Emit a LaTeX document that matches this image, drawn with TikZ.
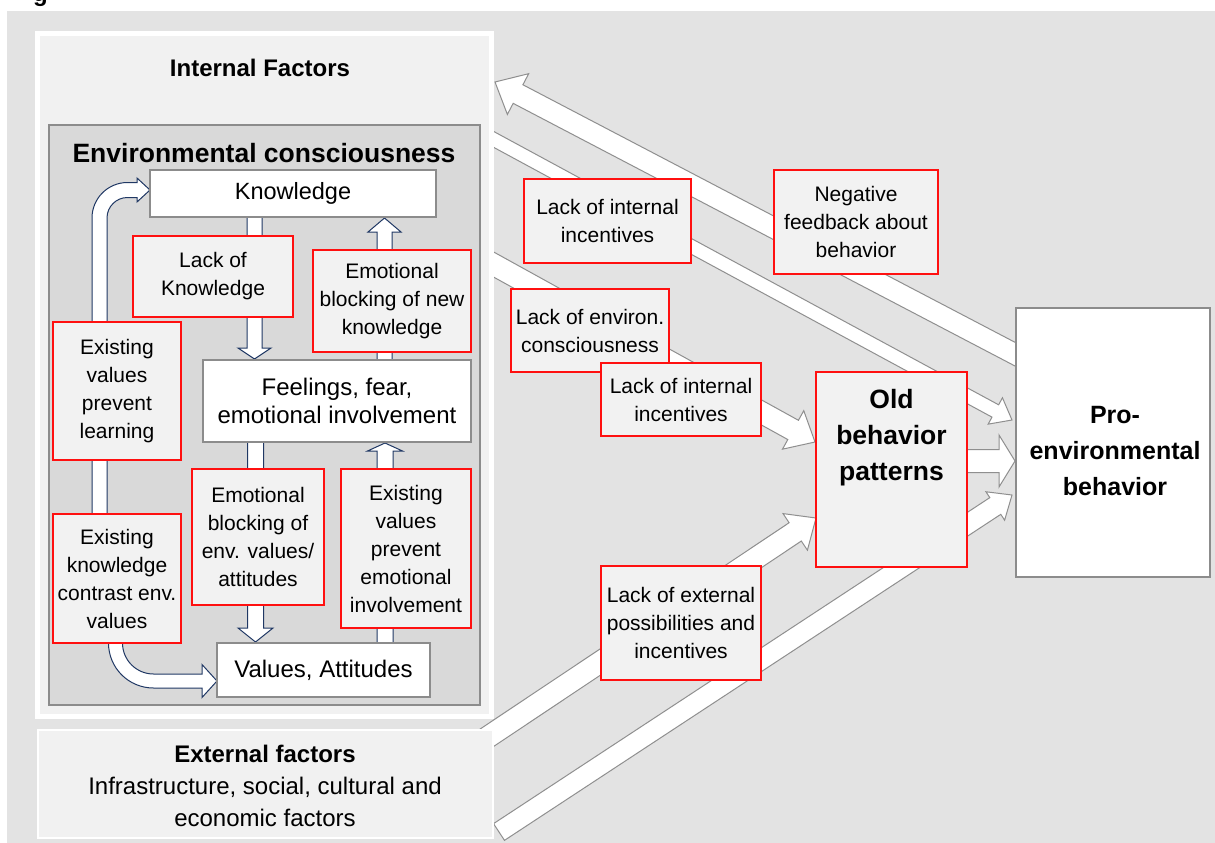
\documentclass[tikz,border=0pt]{standalone}
\usepackage{fontspec}
\setmainfont{Liberation Sans}
\usetikzlibrary{calc}

\definecolor{panel}{HTML}{E3E3E3}
\definecolor{boxfill}{HTML}{F1F1F1}
\definecolor{envfill}{HTML}{D9D9D9}
\definecolor{framegray}{HTML}{8C8C8C}
\definecolor{lblred}{HTML}{FF1010}
\definecolor{lblfill}{HTML}{F2F2F2}
\definecolor{arrowline}{HTML}{8F8F8F}
\definecolor{navy}{HTML}{203864}

\pgfdeclarelayer{backdrop}
\pgfdeclarelayer{bigarrows}
\pgfdeclarelayer{frames}
\pgfdeclarelayer{inner}
\pgfsetlayers{backdrop,bigarrows,frames,inner,main}

% block arrow: #1 style, #2 tail, #3 tip, #4 shaft half width,
% #5 head half width, #6 head length
\newcommand\blockarrow[6]{%
  \coordinate (ba-b) at ($(#3)!#6!(#2)$);
  \path[#1] ($(#2)!#4!90:(#3)$) -- ($(ba-b)!#4!90:(#3)$)
    -- ($(ba-b)!#5!90:(#3)$) -- (#3) -- ($(ba-b)!#5!-90:(#3)$)
    -- ($(ba-b)!#4!-90:(#3)$) -- ($(#2)!#4!-90:(#3)$) -- cycle;
}

\tikzset{
  lbl/.style={draw=lblred, fill=lblfill, line width=1.6pt, align=center,
    inner sep=0pt, font=\fontsize{21}{28}\selectfont},
  wbox/.style={draw=framegray, fill=white, line width=2pt, align=center,
    inner sep=0pt},
  bigarrow/.style={fill=white, draw=arrowline, line width=1pt, line join=miter},
  smallarrow/.style={fill=white, draw=navy, line width=1pt, line join=miter},
  heading/.style={font=\bfseries\fontsize{24}{28}\selectfont, inner sep=0pt},
}

\begin{document}
\begin{tikzpicture}[x=1pt,y=-1pt]
\useasboundingbox (0,0) rectangle (1215,843);

% ---------------- backdrop
\begin{pgfonlayer}{backdrop}
  \fill[panel] (7,11) rectangle (1215,843);
  \begin{scope}
    \clip (0,0) rectangle (200,11);
    \node[anchor=base west, font=\bfseries\fontsize{24}{28}\selectfont,
      inner sep=0pt] (figtitle) at (33,2) {g};
  \end{scope}
\end{pgfonlayer}

% ---------------- end points of the wide arrows
\coordinate (fbTail) at (1030,362);   \coordinate (fbTip) at (495,82);
\coordinate (aTail)  at (480,132);    \coordinate (aTip)  at (1012,420);
\coordinate (bTail)  at (480,257);    \coordinate (bTip)  at (815,442);
\coordinate (mTail)  at (960,461);    \coordinate (mTip)  at (1015,461);
\coordinate (cTail)  at (470,749);    \coordinate (cTip)  at (816,518);
\coordinate (dTail)  at (499,832);    \coordinate (dTip)  at (1012,495);

\begin{pgfonlayer}{bigarrows}
  \blockarrow{bigarrow}{fbTail}{fbTip}{10.5pt}{23pt}{26pt}
  \blockarrow{bigarrow}{aTail}{aTip}{7pt}{15pt}{19pt}
  \blockarrow{bigarrow}{bTail}{bTip}{11pt}{22pt}{25pt}
  \blockarrow{bigarrow}{mTail}{mTip}{11.5pt}{26pt}{16pt}
  \blockarrow{bigarrow}{cTail}{cTip}{11pt}{22pt}{25pt}
  \blockarrow{bigarrow}{dTail}{dTip}{10pt}{17pt}{20pt}
\end{pgfonlayer}

% ---------------- framing boxes
\begin{pgfonlayer}{frames}
  \node[draw=white, line width=5pt, fill=boxfill, minimum width=454,
    minimum height=683, inner sep=0pt] (internal) at (264.5,375) {};
  \node[draw=white, line width=2pt, fill=boxfill, minimum width=455,
    minimum height=108, inner sep=0pt] (external) at (265,783.5) {};
  \node[draw=framegray, fill=envfill, line width=1.5pt, minimum width=431,
    minimum height=580, inner sep=0pt] (envc) at (264.5,415) {};
\end{pgfonlayer}

\node[heading] (internaltitle) at (260,68) {Internal Factors};
\node[heading, font=\bfseries\fontsize{26.5}{30}\selectfont] (envtitle) at (264,153)
  {Environmental consciousness};
\node[align=center, inner sep=0pt, font=\fontsize{24}{32}\selectfont] (exttext)
  at (265,786) {\textbf{External factors}\\Infrastructure, social, cultural and\\economic factors};

% ---------------- inner boxes
\node[wbox, minimum width=286, minimum height=47, font=\fontsize{23.5}{28}\selectfont]
  (know) at (293,193.5) {Knowledge};
\node[wbox, minimum width=268, minimum height=82, font=\fontsize{24}{28}\selectfont]
  (feel) at (337,401) {Feelings, fear,\\emotional involvement};
\node[wbox, minimum width=213, minimum height=54, font=\fontsize{24}{28}\selectfont]
  (val) at (323.5,670) {Values, Attitudes};

% ---------------- barrier labels
\node[lbl, minimum width=160, minimum height=81]  (lk)   at (213,276.5) {Lack of\\Knowledge};
\node[lbl, minimum width=158, minimum height=102] (ebn)  at (392,301) {Emotional\\blocking of new\\knowledge};
\node[lbl, minimum width=128, minimum height=138] (evpl) at (117,391) {Existing\\values\\prevent\\learning};
\node[lbl, minimum width=128, minimum height=129] (ekc)  at (117,578.5) {Existing\\knowledge\\contrast env.\\values};
\node[lbl, minimum width=132, minimum height=136] (ebv)  at (258,537) {Emotional\\blocking of\\env. values/\\attitudes};
\node[lbl, minimum width=130, minimum height=159] (evpe) at (406,548.5) {Existing\\values\\prevent\\emotional\\involvement};
\node[lbl, minimum width=167, minimum height=84]  (li1)  at (607.5,221) {Lack of internal\\incentives};
\node[lbl, minimum width=164, minimum height=104] (nf)   at (856,222) {Negative\\feedback about\\behavior};
\node[lbl, minimum width=158, minimum height=83]  (lec)  at (590,330.5) {Lack of environ.\\consciousness};
\node[lbl, minimum width=160, minimum height=73]  (li2)  at (681,399.5) {Lack of internal\\incentives};
\node[lbl, minimum width=160, minimum height=114] (lex)  at (681,623) {Lack of external\\possibilities and\\incentives};

% ---------------- behaviour boxes
\node[lbl, minimum width=151, minimum height=195] (old) at (891.5,469.5) {};
\node[align=center, inner sep=0pt, font=\bfseries\fontsize{26.5}{36}\selectfont]
  (oldtext) at (891.5,437.5) {Old\\behavior\\patterns};
\node[wbox, line width=2.5pt, minimum width=194, minimum height=269] (pro) at (1113,442.5) {};
\node[align=center, inner sep=0pt, font=\bfseries\fontsize{25}{36}\selectfont]
  (protext) at (1115,451) {Pro-\\environmental\\behavior};

% ---------------- arrows inside the consciousness box
\coordinate (e1tail) at (99.5,520);  \coordinate (e1tip) at (150,190);
\coordinate (e2tail) at (115.5,635); \coordinate (e2tip) at (217,681);
\begin{pgfonlayer}{inner}
  \coordinate (kfTail) at (254.5,212);  \coordinate (kfTip) at (254.5,0 |- feel.north);
  \coordinate (fkTail) at (384.5,365);  \coordinate (fkTip) at (384.5,0 |- know.south);
  \coordinate (fvTail) at (255.5,437);  \coordinate (fvTip) at (255.5,0 |- val.north);
  \coordinate (vfTail) at (385,648);    \coordinate (vfTip) at (385,0 |- feel.south);
  \blockarrow{smallarrow}{kfTail}{kfTip}{7.5pt}{16.5pt}{11pt}
  \blockarrow{smallarrow}{fkTail}{fkTip}{7.5pt}{16.5pt}{14pt}
  \blockarrow{smallarrow}{fvTail}{fvTip}{8pt}{17.5pt}{14pt}
  \blockarrow{smallarrow}{vfTail}{vfTip}{8pt}{17.5pt}{8pt}
  % curved arrow up the left side into Knowledge
  \draw[smallarrow] ($(e1tail)+(-7.5,0)$) -- (92,218)
    .. controls (92,198.4) and (107.9,182.5) .. (127.5,182.5)
    -- (137,182.5) -- (137,178) -- (e1tip) -- (137,202) -- (137,197.5)
    -- (127.5,197.5) .. controls (116.2,197.5) and (107,206.7) .. (107,218)
    -- ($(e1tail)+(7.5,0)$) -- cycle;
  % curved arrow from the lower left label into Values
  \draw[smallarrow] ($(e2tail)+(-7,0)$) -- (108.5,643)
    .. controls (108.5,667.9) and (128.6,688) .. (153.5,688)
    -- (202,688) -- (202,697.5) -- (e2tip) -- (202,664.5) -- (202,674)
    -- (153.5,674) .. controls (136.4,674) and (122.5,660.1) .. (122.5,643)
    -- ($(e2tail)+(7,0)$) -- cycle;
\end{pgfonlayer}
\end{tikzpicture}
\end{document}
